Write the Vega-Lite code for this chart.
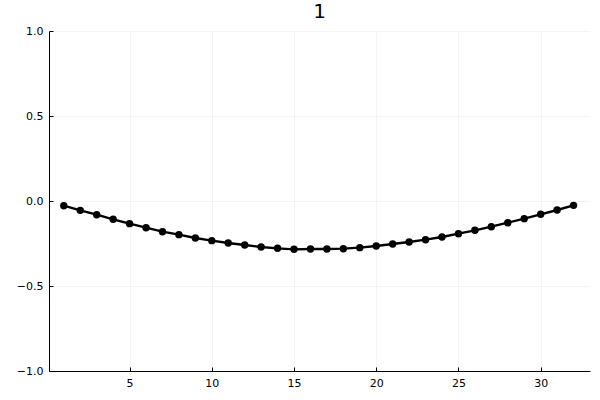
{
  "$schema": "https://vega.github.io/schema/vega-lite/v6.json",
  "width": 541,
  "height": 340,
  "autosize": {"type": "none"},
  "padding": {"left": 49, "top": 31, "right": 10, "bottom": 29},
  "background": "white",
  "title": {"text": "1", "fontSize": 20, "font": "DejaVu Sans", "fontWeight": "normal", "anchor": "middle", "offset": 3, "color": "black"},
  "config": {"view": {"stroke": null}},
  "data": {"values": [
    {"x": 1, "y": -0.0275}, {"x": 2, "y": -0.0549}, {"x": 3, "y": -0.0804}, {"x": 4, "y": -0.1078},
    {"x": 5, "y": -0.1333}, {"x": 6, "y": -0.1569}, {"x": 7, "y": -0.1804}, {"x": 8, "y": -0.198},
    {"x": 9, "y": -0.2176}, {"x": 10, "y": -0.2333}, {"x": 11, "y": -0.2471}, {"x": 12, "y": -0.2588},
    {"x": 13, "y": -0.2706}, {"x": 14, "y": -0.2784}, {"x": 15, "y": -0.2843}, {"x": 16, "y": -0.2824},
    {"x": 17, "y": -0.2824}, {"x": 18, "y": -0.2804}, {"x": 19, "y": -0.2745}, {"x": 20, "y": -0.2647},
    {"x": 21, "y": -0.2529}, {"x": 22, "y": -0.2412}, {"x": 23, "y": -0.2275}, {"x": 24, "y": -0.2118},
    {"x": 25, "y": -0.1922}, {"x": 26, "y": -0.1725}, {"x": 27, "y": -0.151}, {"x": 28, "y": -0.1275},
    {"x": 29, "y": -0.1039}, {"x": 30, "y": -0.0784}, {"x": 31, "y": -0.0529}, {"x": 32, "y": -0.0255}
  ]},
  "encoding": {
    "x": {"field": "x", "type": "quantitative",
      "scale": {"domain": [0.1, 33.0], "nice": false, "zero": false},
      "axis": {"title": null, "values": [5, 10, 15, 20, 25, 30], "format": "d", "tickSize": -4, "tickColor": "black", "domainColor": "black", "domainWidth": 1, "labelFont": "DejaVu Sans", "labelFontSize": 11, "labelColor": "black", "labelPadding": 10, "grid": true, "gridColor": "#000000", "gridOpacity": 0.08, "gridWidth": 0.6}},
    "y": {"field": "y", "type": "quantitative",
      "scale": {"domain": [-1, 1], "nice": false, "zero": false},
      "axis": {"title": null, "values": [-1, -0.5, 0, 0.5, 1], "format": ".1f", "tickSize": -4, "tickColor": "black", "domainColor": "black", "domainWidth": 1, "labelFont": "DejaVu Sans", "labelFontSize": 11, "labelColor": "black", "labelPadding": 10, "grid": true, "gridColor": "#000000", "gridOpacity": 0.08, "gridWidth": 0.6}}
  },
  "layer": [
    {"mark": {"type": "line", "color": "black", "strokeWidth": 2.4}},
    {"mark": {"type": "point", "filled": true, "color": "black", "opacity": 1, "size": 55}}
  ]
}
